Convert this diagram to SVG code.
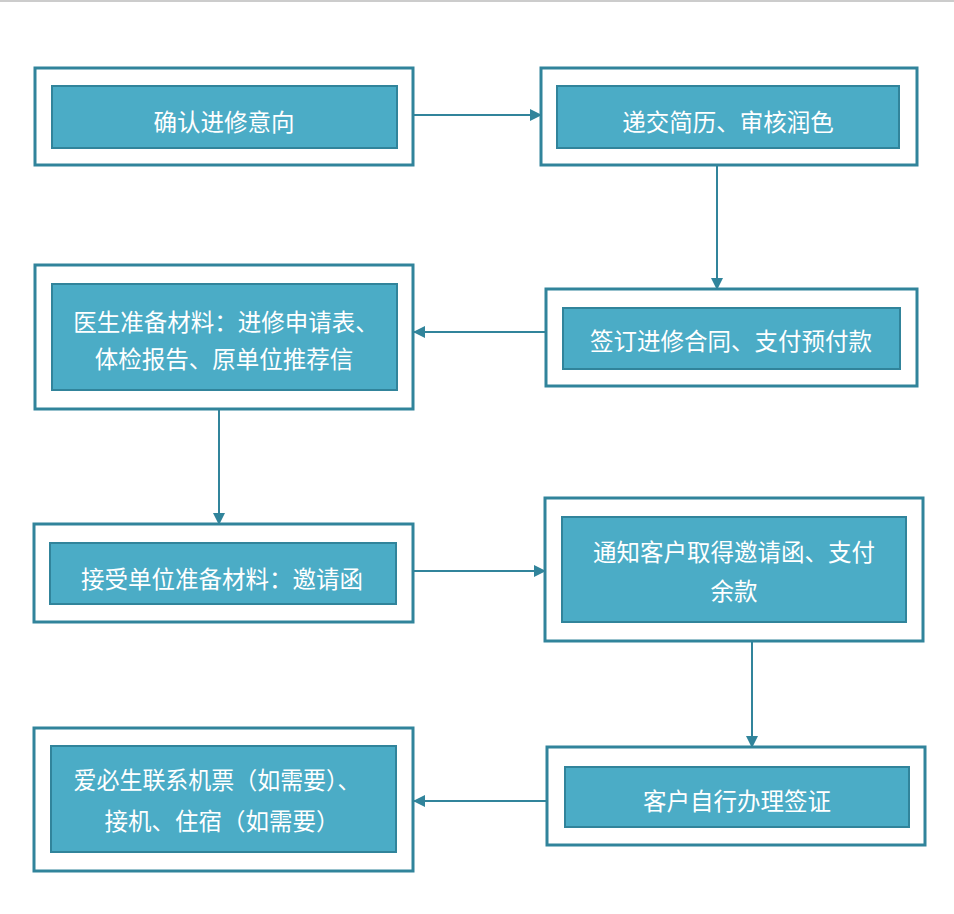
<svg xmlns="http://www.w3.org/2000/svg" width="954" height="914" viewBox="0 0 954 914">
<style>
.outer{fill:#fff;stroke:#31849b;stroke-width:3}
.inner{fill:#4bacc6;stroke:#31849b;stroke-width:2}
.t{fill:#fff;font-family:"Noto Sans CJK SC","Microsoft YaHei",sans-serif;font-size:23.5px;text-anchor:middle;dominant-baseline:central}
.c{stroke:#31849b;stroke-width:2;fill:none;marker-end:url(#ah)}
</style>
<defs>
<marker id="ah" markerWidth="12" markerHeight="12" refX="11" refY="6" orient="auto" markerUnits="userSpaceOnUse">
<path d="M0,0 L12,6 L0,12 Z" fill="#31849b"/>
</marker>
</defs>
<rect width="954" height="914" fill="#fff"/>
<line x1="0" y1="1" x2="954" y2="1" stroke="#cccccc" stroke-width="2"/>
<g id="connectors">
<line class="c" x1="413" y1="115" x2="541" y2="115"/>
<line class="c" x1="717" y1="165" x2="717" y2="289"/>
<line class="c" x1="546" y1="332" x2="414" y2="332"/>
<line class="c" x1="219" y1="409" x2="219" y2="524"/>
<line class="c" x1="413" y1="571" x2="545" y2="571"/>
<line class="c" x1="752" y1="641" x2="752" y2="747"/>
<line class="c" x1="547" y1="801" x2="414" y2="801"/>
</g>
<g id="n1">
<rect class="outer" x="35" y="68" width="378" height="97"/>
<rect class="inner" x="52" y="86" width="345" height="62"/>
<text class="t" x="224" y="121">确认进修意向</text>
</g>
<g id="n2">
<rect class="outer" x="541" y="68" width="376" height="97"/>
<rect class="inner" x="557" y="86" width="342" height="62"/>
<text class="t" x="728" y="121">递交简历、审核润色</text>
</g>
<g id="n3">
<rect class="outer" x="546" y="289" width="371" height="97"/>
<rect class="inner" x="563" y="308" width="337" height="61"/>
<text class="t" x="731" y="340">签订进修合同、支付预付款</text>
</g>
<g id="n4">
<rect class="outer" x="35" y="265" width="378" height="144"/>
<rect class="inner" x="52" y="284" width="345" height="106"/>
<text class="t" x="226" y="321">医生准备材料：进修申请表、</text>
<text class="t" x="224" y="358">体检报告、原单位推荐信</text>
</g>
<g id="n5">
<rect class="outer" x="34" y="524" width="379" height="98"/>
<rect class="inner" x="50" y="543" width="346" height="61"/>
<text class="t" x="222" y="578">接受单位准备材料：邀请函</text>
</g>
<g id="n6">
<rect class="outer" x="545" y="498" width="378" height="143"/>
<rect class="inner" x="562" y="517" width="344" height="105"/>
<text class="t" x="734" y="551">通知客户取得邀请函、支付</text>
<text class="t" x="734" y="590">余款</text>
</g>
<g id="n7">
<rect class="outer" x="547" y="747" width="378" height="98"/>
<rect class="inner" x="565" y="767" width="344" height="60"/>
<text class="t" x="737" y="800">客户自行办理签证</text>
</g>
<g id="n8">
<rect class="outer" x="34" y="728" width="379" height="143"/>
<rect class="inner" x="51" y="746" width="345" height="106"/>
<text class="t" x="217" y="779" textLength="287" lengthAdjust="spacingAndGlyphs">爱必生联系机票（如需要）、</text>
<text class="t" x="222" y="820">接机、住宿（如需要）</text>
</g>
</svg>
